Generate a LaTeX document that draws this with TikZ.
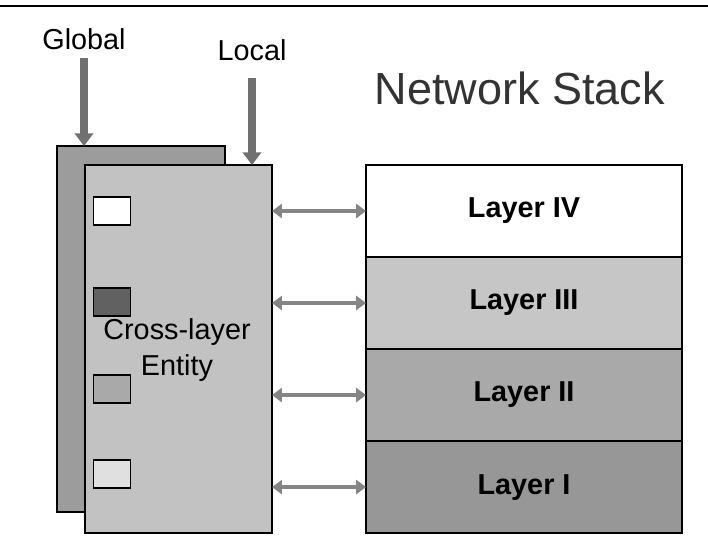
\documentclass[tikz,border=0pt]{standalone}
\usepackage{fontspec}
\setmainfont{Liberation Sans}
\usetikzlibrary{positioning,arrows.meta}

\definecolor{panelback}{HTML}{9C9C9C}
\definecolor{panelfront}{HTML}{C2C2C2}
\definecolor{layerthree}{HTML}{C6C6C6}
\definecolor{layertwo}{HTML}{A9A9A9}
\definecolor{layerone}{HTML}{979797}
\definecolor{arrowgray}{HTML}{707070}

\begin{document}
\begin{tikzpicture}
	[
	x = {(0.025cm, 0cm)},
	y = {(0cm, -0.025cm)},
	caption/.style = {inner sep = 0pt, font = \fontsize{20.5}{24}\selectfont},
	panel/.style = {draw = black, line width = 1.4pt, inner sep = 0pt, outer sep = 0pt, anchor = north west},
	layer/.style = {draw = black, line width = 1.4pt, inner sep = 0pt, outer sep = 0pt,
		minimum width = 7.9cm, minimum height = 2.3cm, font = \fontsize{20.5}{24}\selectfont\bfseries},
	marker/.style = {draw = black, line width = 1.2pt, minimum width = 0.925cm, minimum height = 0.7cm, inner sep = 0pt},
	feedarrow/.style = {-{Triangle[width = 13pt, length = 9pt]}, line width = 5pt, color = arrowgray},
	linkarrow/.style = {{Triangle[width = 10pt, length = 7pt]}-{Triangle[width = 10pt, length = 7pt]}, line width = 3.2pt, color = arrowgray!85}]
	
	\useasboundingbox (0,0) rectangle (708,536);
	
	% top rule
	\draw[line width = 1.2pt] (0,6) -- (708,6);
	
	%% captions
	\node[caption] (global) at (84,39) {Global};
	\node[caption] (local) at (252,50) {Local};
	\node[inner sep = 0pt, text = black!80, font = \fontsize{32}{36}\selectfont] (stacktitle) at (520,88) {Network Stack};
	
	%% the two cross-layer panels
	\node[panel, fill = panelback, minimum width = 4.2cm, minimum height = 9.15cm] (back) at (57,146) {};
	\node[panel, fill = panelfront, minimum width = 4.675cm, minimum height = 9.2cm] (front) at (85,165) {};
	
	\node[marker, fill = white] (m4) at (112,211) {};
	\node[marker, fill = black!62] (m3) at (112,302) {};
	\node[marker, fill = layertwo] (m2) at (112,389) {};
	\node[marker, fill = black!12] (m1) at (112,474) {};
	
	\node[align = center, inner sep = 0pt, font = \fontsize{20.5}{25.6}\selectfont] (entity) at (177,350) {Cross-layer\\Entity};
	
	%% the network stack
	\node[layer, fill = white, anchor = north west] (l4) at (366,165) {Layer IV};
	\node[layer, fill = layerthree, below = 0pt of l4] (l3) {Layer III};
	\node[layer, fill = layertwo, below = 0pt of l3] (l2) {Layer II};
	\node[layer, fill = layerone, below = 0pt of l2] (l1) {Layer I};
	
	%% arrows
	\draw[feedarrow, shorten <= 6pt] (global.south) -- (global.south |- back.north);
	\draw[feedarrow, shorten <= 12pt] (local.south) -- (local.south |- front.north);
	
	\foreach \l in {l4,l3,l2,l1}
		\draw[linkarrow] (front.east |- \l) -- (\l.west);
\end{tikzpicture}
\end{document}
